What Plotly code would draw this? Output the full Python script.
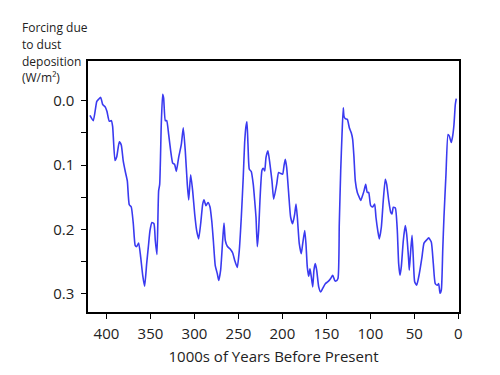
import plotly.graph_objects as go

years = [418.8, 415, 411, 409, 406.6, 404.3, 401.3, 399.4, 396.8, 394.5, 393, 390.3, 388.4, 385.4, 383.2,
         380.9, 378.6, 376.3, 374.1, 371.8, 369.5, 367.3, 365.7, 363.4, 361.1, 358.8, 356.6, 354.3, 352.4,
         350.5, 348.3, 346, 344.5, 342.6, 340.7, 339.5, 337.7, 336.1, 335, 333.1, 331.5, 329.3, 327, 324.7,
         322.5, 320.6, 317.9, 314.9, 312.7, 310.4, 308.1, 306.5, 304.3, 302, 299.7, 297.5, 295.2, 292.9,
         290.6, 289.1, 286.9, 284.6, 282.3, 280.2, 278.5, 276.3, 274, 272.4, 270.2, 267.9, 266.4, 264.9,
         262.6, 259.6, 256.5, 254.2, 251.3, 249, 246.7, 244.5, 242.9, 241.4, 240.3, 239.1, 237.6, 235.4,
         233.1, 231.5, 230, 228.5, 227, 225.5, 223.2, 221.7, 220.1, 218.6, 216.4, 214.1, 211.8, 209.9,
         206.5, 204.3, 202, 199.7, 198.2, 196.7, 195.1, 192.8, 190.6, 188.3, 186, 184.5, 183, 180.8, 178.5,
         176.9, 174.6, 173.2, 171.7, 170.1, 168.6, 167.1, 165.5, 164.1, 162.6, 161, 158.7, 156.5, 154.2,
         151.2, 148.2, 145.1, 142.8, 140.5, 139.1, 136.8, 135.3, 133.7, 132.2, 130.8, 130, 128.5, 126.2,
         123.9, 121.7, 120.1, 118.6, 117.1, 114.8, 112.6, 111, 109.5, 107.2, 105.3, 103.5, 101.9, 99.6,
         97.3, 95.1, 93.6, 91.3, 89.8, 87.5, 85.3, 83, 81.4, 79.1, 76.9, 75.4, 73.9, 71.6, 69.4, 67.8,
         66.3, 64.8, 62.5, 60.3, 58.7, 56.4, 55.7, 54.1, 52.6, 51.2, 49.6, 47.3, 44.3, 41.3, 39, 35.9,
         33.7, 30.7, 28.4, 26.2, 23.9, 22.3, 20.8, 19.3, 17.7, 16.3, 14, 11.7, 10.2, 8, 6.4, 4.9, 3.4, 2.3]

forcing = [0.023, 0.031, 0.001, -0.002, -0.005, 0.006, 0.010, 0.017, 0.032, 0.031, 0.040, 0.093, 0.0875, 0.064,
           0.069, 0.094, 0.110, 0.1245, 0.1615, 0.165, 0.191, 0.225, 0.2265, 0.221, 0.243, 0.271, 0.288,
           0.253, 0.227, 0.2015, 0.189, 0.191, 0.217, 0.239, 0.140, 0.130, 0.037, -0.010, -0.004, 0.031,
           0.031, 0.0525, 0.078, 0.097, 0.099, 0.110, 0.088, 0.068, 0.042, 0.078, 0.130, 0.154, 0.115,
           0.140, 0.176, 0.2015, 0.2145, 0.191, 0.1605, 0.154, 0.163, 0.158, 0.165, 0.188, 0.217, 0.256,
           0.2685, 0.279, 0.263, 0.217, 0.190, 0.217, 0.226, 0.230, 0.2365, 0.248, 0.259, 0.2325, 0.181,
           0.119, 0.065, 0.040, 0.033, 0.068, 0.1065, 0.110, 0.130, 0.155, 0.181, 0.2265, 0.2015, 0.155,
           0.108, 0.105, 0.109, 0.088, 0.078, 0.099, 0.125, 0.153, 0.130, 0.1115, 0.113, 0.114, 0.1015,
           0.091, 0.104, 0.145, 0.181, 0.191, 0.176, 0.1605, 0.181, 0.222, 0.2375, 0.222, 0.2015, 0.222,
           0.258, 0.2725, 0.261, 0.2735, 0.289, 0.263, 0.253, 0.263, 0.289, 0.297, 0.2915, 0.284, 0.281,
           0.276, 0.271, 0.279, 0.280, 0.276, 0.191, 0.109, 0.0525, 0.011, 0.024, 0.028, 0.029, 0.042,
           0.050, 0.060, 0.088, 0.1245, 0.1425, 0.150, 0.155, 0.150, 0.140, 0.130, 0.1425, 0.1425, 0.163,
           0.165, 0.1605, 0.181, 0.204, 0.2145, 0.1965, 0.155, 0.122, 0.130, 0.155, 0.173, 0.176, 0.1655,
           0.1665, 0.200, 0.253, 0.271, 0.258, 0.217, 0.194, 0.207, 0.248, 0.263, 0.2325, 0.209, 0.243,
           0.281, 0.2865, 0.2685, 0.243, 0.221, 0.216, 0.213, 0.2195, 0.253, 0.284, 0.2865, 0.284, 0.299,
           0.294, 0.2325, 0.181, 0.114, 0.0525, 0.055, 0.065, 0.055, 0.037, 0.006, -0.003]

x_ticks = [400, 350, 300, 250, 200, 150, 100, 50, 0]
y_ticks = [0.0, 0.1, 0.2, 0.3]
y_tick_text = ["0.0", "0.1", "0.2", "0.3"]
y_minor_ticks = [0.05, 0.15, 0.25]
y_label_lines = ["Forcing due", "to dust", "deposition", "(W/m²)"]
x_title = "1000s of Years Before Present"

FONT = "Open Sans"
TXT = "#222222"

fig = go.Figure()
fig.add_trace(go.Scatter(
    x=years, y=forcing, mode="lines",
    line=dict(color="#3a3af0", width=1.6, shape="spline", smoothing=0.5),
    hoverinfo="skip", showlegend=False,
))

fig.update_layout(
    width=500, height=375,
    margin=dict(l=88, r=41, t=61, b=61),
    paper_bgcolor="white", plot_bgcolor="white",
    font=dict(family=FONT, color=TXT, size=15),
    xaxis=dict(
        range=[421, -0.8], tickvals=x_ticks, ticks="outside", ticklen=5, tickwidth=1.3,
        tickcolor="black", showline=True, linecolor="black", linewidth=1.5, mirror=True,
        showgrid=False, zeroline=False, ticklabelstandoff=2,
        tickfont=dict(size=15, family=FONT, color=TXT),
        title=dict(text=x_title, font=dict(size=15, family=FONT, color=TXT), standoff=10),
    ),
    yaxis=dict(
        range=[0.328, -0.0615], tickvals=y_ticks, ticktext=y_tick_text, ticks="outside",
        ticklen=5, tickwidth=1.3, tickcolor="black", showline=True, linecolor="black",
        linewidth=1.5, mirror=True, showgrid=False, zeroline=False, ticklabelstandoff=4,
        tickfont=dict(size=15, family=FONT, color=TXT),
        minor=dict(tickvals=y_minor_ticks, ticks="outside", ticklen=5, tickwidth=1.3,
                   tickcolor="black", showgrid=False),
    ),
)

for i, line in enumerate(y_label_lines):
    fig.add_annotation(
        text=line, xref="paper", yref="paper", x=-68 / 371, y=1 + (61 - 27 - 17 * i) / 253,
        xanchor="left", yanchor="middle", showarrow=False,
        font=dict(size=12, family=FONT, color=TXT),
    )

fig.write_html("out.html")
